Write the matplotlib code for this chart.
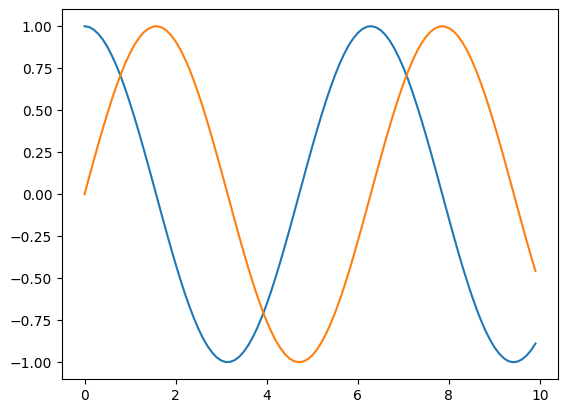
import matplotlib
matplotlib.use("Agg")
import matplotlib.pyplot as plt

# sample positions
x = [0.0, 0.1, 0.2, 0.3, 0.4, 0.5, 0.6, 0.7, 0.8, 0.9,
     1.0, 1.1, 1.2, 1.3, 1.4, 1.5, 1.6, 1.7, 1.8, 1.9,
     2.0, 2.1, 2.2, 2.3, 2.4, 2.5, 2.6, 2.7, 2.8, 2.9,
     3.0, 3.1, 3.2, 3.3, 3.4, 3.5, 3.6, 3.7, 3.8, 3.9,
     4.0, 4.1, 4.2, 4.3, 4.4, 4.5, 4.6, 4.7, 4.8, 4.9,
     5.0, 5.1, 5.2, 5.3, 5.4, 5.5, 5.6, 5.7, 5.8, 5.9,
     6.0, 6.1, 6.2, 6.3, 6.4, 6.5, 6.6, 6.7, 6.8, 6.9,
     7.0, 7.1, 7.2, 7.3, 7.4, 7.5, 7.6, 7.7, 7.8, 7.9,
     8.0, 8.1, 8.2, 8.3, 8.4, 8.5, 8.6, 8.7, 8.8, 8.9,
     9.0, 9.1, 9.2, 9.3, 9.4, 9.5, 9.6, 9.7, 9.8, 9.9]

# blue curve
blue = [1.000, 0.995, 0.980, 0.955, 0.921, 0.878, 0.825, 0.765, 0.697, 0.622,
        0.540, 0.454, 0.362, 0.267, 0.170, 0.071, -0.029, -0.129, -0.227, -0.323,
        -0.416, -0.505, -0.589, -0.666, -0.737, -0.801, -0.857, -0.904, -0.942, -0.971,
        -0.990, -0.999, -0.998, -0.987, -0.967, -0.936, -0.897, -0.848, -0.791, -0.726,
        -0.654, -0.575, -0.490, -0.401, -0.307, -0.211, -0.112, -0.012, 0.087, 0.187,
        0.284, 0.378, 0.469, 0.554, 0.635, 0.709, 0.776, 0.835, 0.886, 0.927,
        0.960, 0.983, 0.997, 1.000, 0.993, 0.977, 0.950, 0.914, 0.869, 0.815,
        0.754, 0.685, 0.608, 0.526, 0.439, 0.347, 0.252, 0.154, 0.054, -0.046,
        -0.146, -0.244, -0.340, -0.432, -0.519, -0.602, -0.678, -0.748, -0.811, -0.865,
        -0.911, -0.948, -0.975, -0.993, -1.000, -0.997, -0.984, -0.962, -0.930, -0.889]

# orange curve
orange = [0.000, 0.100, 0.199, 0.296, 0.389, 0.479, 0.565, 0.644, 0.717, 0.783,
          0.841, 0.891, 0.932, 0.964, 0.985, 0.997, 1.000, 0.992, 0.974, 0.946,
          0.909, 0.863, 0.808, 0.746, 0.675, 0.598, 0.516, 0.427, 0.335, 0.239,
          0.141, 0.042, -0.058, -0.158, -0.256, -0.351, -0.443, -0.530, -0.612, -0.688,
          -0.757, -0.818, -0.872, -0.916, -0.952, -0.978, -0.994, -1.000, -0.996, -0.982,
          -0.959, -0.926, -0.883, -0.832, -0.773, -0.706, -0.631, -0.551, -0.465, -0.374,
          -0.279, -0.182, -0.083, 0.017, 0.117, 0.215, 0.312, 0.405, 0.494, 0.579,
          0.657, 0.729, 0.794, 0.851, 0.899, 0.938, 0.968, 0.988, 0.999, 0.999,
          0.989, 0.970, 0.941, 0.902, 0.855, 0.798, 0.734, 0.663, 0.585, 0.501,
          0.412, 0.319, 0.223, 0.124, 0.025, -0.075, -0.174, -0.272, -0.366, -0.457]

fig = plt.figure(figsize=(5.68, 4.13), dpi=100)
ax = fig.add_axes([62 / 568, 34 / 413, 496 / 568, 369.6 / 413])
ax.plot(x, blue)
ax.plot(x, orange)

fig.savefig("out.png", dpi=100)
